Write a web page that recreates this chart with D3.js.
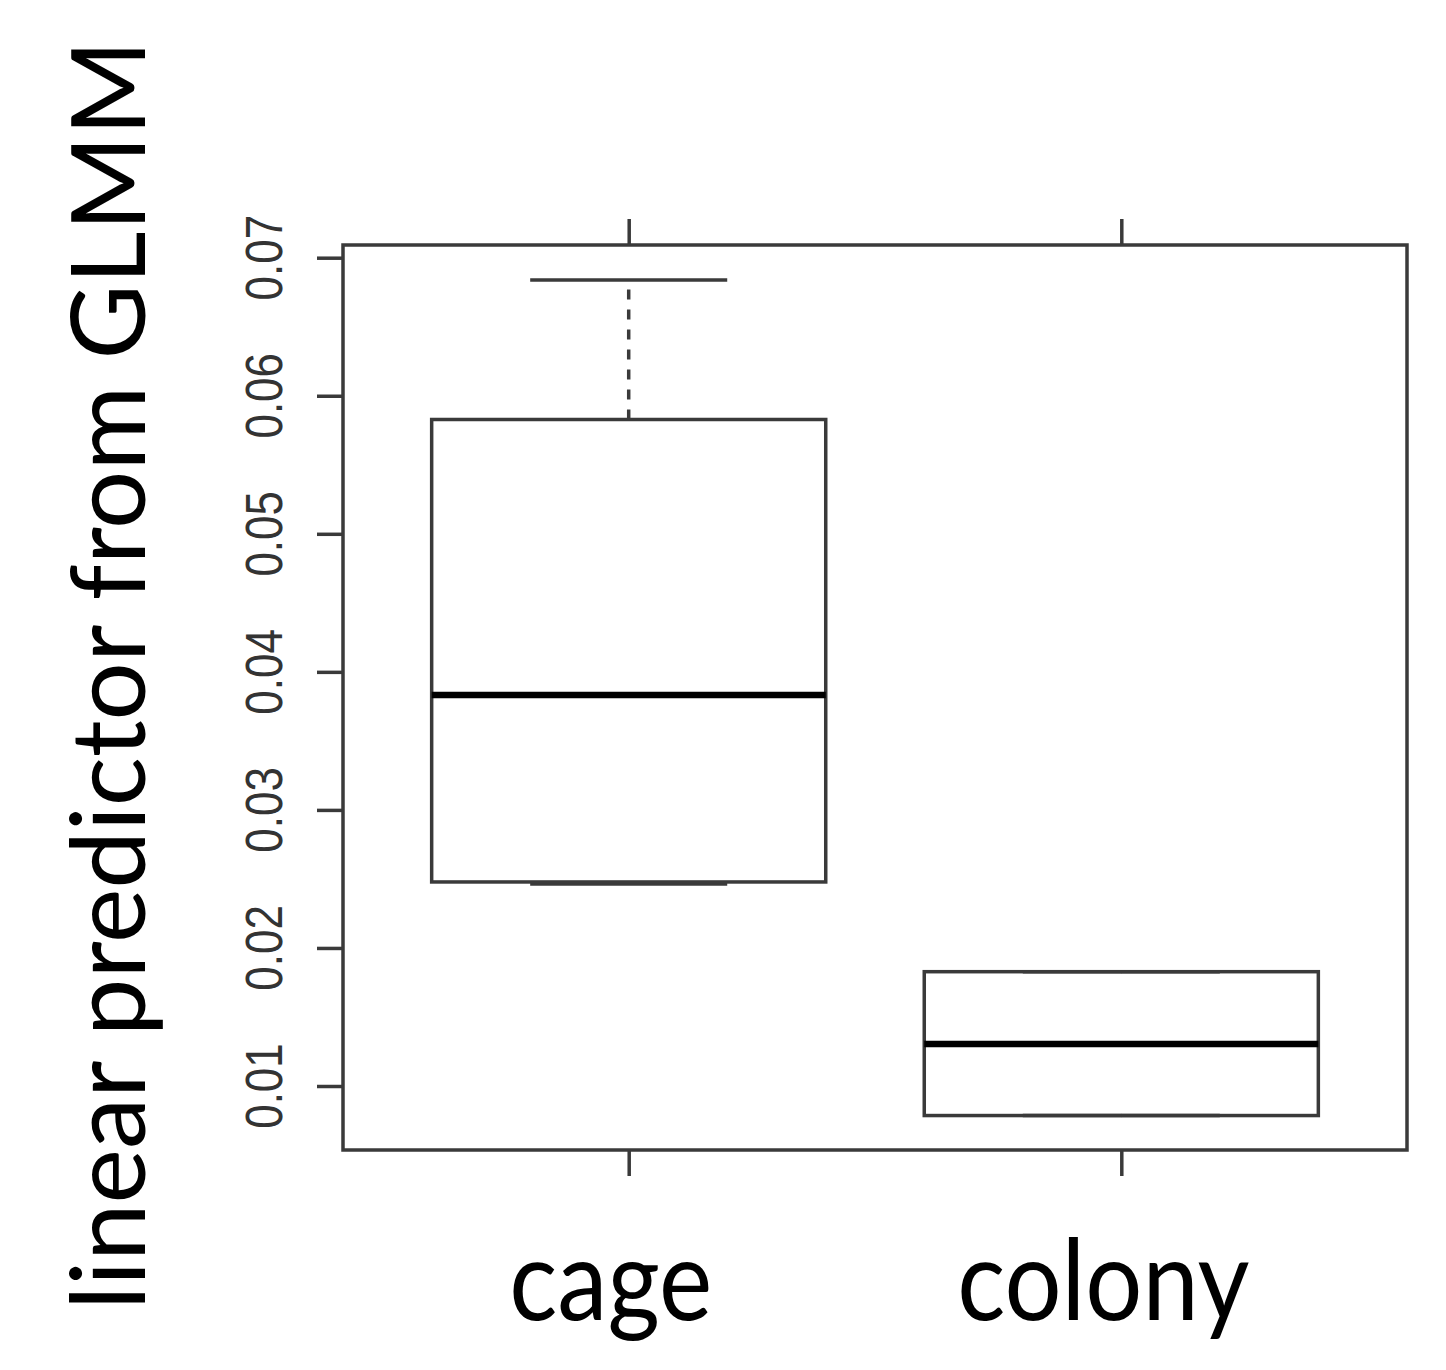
<!DOCTYPE html>
<html>
<head>
<meta charset="utf-8">
<script src="https://cdn.jsdelivr.net/npm/d3@7"></script>
<style>
  body { margin: 0; background: #fff; }
  svg { display: block; }
</style>
</head>
<body>
<script>
(function() {
  'use strict';

  // box statistics
  const categories = ['cage', 'colony'];
  const whiskerLow = [0.02463, 0.00786];
  const q1 = [0.02478, 0.00786];
  const medians = [0.03832, 0.01304];
  const q3 = [0.05828, 0.01828];
  const whiskerHigh = [0.06838, 0.01828];

  const yTicks = [0.01, 0.02, 0.03, 0.04, 0.05, 0.06, 0.07];
  const yTickLabels = ['0.01', '0.02', '0.03', '0.04', '0.05', '0.06', '0.07'];
  const yLabel = 'linear predictor from GLMM';

  const w = 1446;
  const h = 1370;
  const frame = { left: 343, right: 1407, top: 245, bottom: 1150 };
  const lineColor = '#3a3a3a';
  const lw = 3.5;

  const boxes = categories.map((c, i) => ({
    name: c, pos: i + 1,
    lo: whiskerLow[i], q1: q1[i], med: medians[i], q3: q3[i], hi: whiskerHigh[i]
  }));

  // R style: x from 0.5 to n+0.5, extended by 4%
  const xScale = d3.scaleLinear()
    .domain([0.42, categories.length + 0.58])
    .range([frame.left, frame.right]);
  const yScale = d3.scaleLinear()
    .domain([0.01, 0.07])
    .range([1086, 257.7]);

  const boxW = xScale(0.8) - xScale(0);
  const capW = boxW / 2;

  const svg = d3.select('body')
    .append('svg')
    .attr('width', w)
    .attr('height', h);

  const g = svg.selectAll('g.box')
    .data(boxes)
    .enter()
    .append('g')
    .attr('class', 'box');

  // whiskers (dashed)
  g.append('line')
    .attr('x1', (d) => xScale(d.pos)).attr('x2', (d) => xScale(d.pos))
    .attr('y1', (d) => yScale(d.q3)).attr('y2', (d) => yScale(d.hi))
    .attr('stroke', lineColor).attr('stroke-width', lw)
    .attr('stroke-dasharray', '10,10');
  g.append('line')
    .attr('x1', (d) => xScale(d.pos)).attr('x2', (d) => xScale(d.pos))
    .attr('y1', (d) => yScale(d.q1)).attr('y2', (d) => yScale(d.lo))
    .attr('stroke', lineColor).attr('stroke-width', lw)
    .attr('stroke-dasharray', '10,10');

  // staples
  ['hi', 'lo'].forEach((k) => {
    g.append('line')
      .attr('x1', (d) => xScale(d.pos) - capW / 2)
      .attr('x2', (d) => xScale(d.pos) + capW / 2)
      .attr('y1', (d) => yScale(d[k])).attr('y2', (d) => yScale(d[k]))
      .attr('stroke', lineColor).attr('stroke-width', lw);
  });

  // boxes
  g.append('rect')
    .attr('x', (d) => xScale(d.pos) - boxW / 2)
    .attr('y', (d) => yScale(d.q3))
    .attr('width', boxW)
    .attr('height', (d) => yScale(d.q1) - yScale(d.q3))
    .attr('fill', 'none')
    .attr('stroke', lineColor)
    .attr('stroke-width', lw);

  // medians
  g.append('line')
    .attr('x1', (d) => xScale(d.pos) - boxW / 2)
    .attr('x2', (d) => xScale(d.pos) + boxW / 2)
    .attr('y1', (d) => yScale(d.med)).attr('y2', (d) => yScale(d.med))
    .attr('stroke', '#000').attr('stroke-width', 6.5);

  // y axis ticks
  const yAxis = d3.axisLeft(yScale)
    .tickValues(yTicks)
    .tickSize(26)
    .tickFormat('');
  svg.append('g')
    .attr('id', 'y-axis')
    .attr('transform', 'translate(' + frame.left + ',0)')
    .call(yAxis)
    .call((s) => s.select('.domain').remove())
    .call((s) => s.selectAll('line').attr('stroke', lineColor).attr('stroke-width', lw));

  // rotated tick labels
  svg.append('g')
    .selectAll('text')
    .data(yTicks)
    .enter()
    .append('text')
    .attr('transform', (d) => 'translate(282,' + yScale(d) + ') scale(1.17,1) rotate(-90)')
    .attr('text-anchor', 'middle')
    .style('font-family', 'Liberation Sans, Arial, sans-serif')
    .style('font-size', '44px')
    .attr('fill', '#333')
    .text((d, i) => yTickLabels[i]);

  // x ticks top and bottom
  const xTicks = boxes.map((d) => d.pos);
  svg.append('g')
    .attr('transform', 'translate(0,' + frame.bottom + ')')
    .call(d3.axisBottom(xScale).tickValues(xTicks).tickSize(26).tickFormat(''))
    .call((s) => s.select('.domain').remove())
    .call((s) => s.selectAll('line').attr('stroke', lineColor).attr('stroke-width', lw));
  svg.append('g')
    .attr('transform', 'translate(0,' + frame.top + ')')
    .call(d3.axisTop(xScale).tickValues(xTicks).tickSize(26).tickFormat(''))
    .call((s) => s.select('.domain').remove())
    .call((s) => s.selectAll('line').attr('stroke', lineColor).attr('stroke-width', lw));

  // plot frame
  svg.append('rect')
    .attr('x', frame.left)
    .attr('y', frame.top)
    .attr('width', frame.right - frame.left)
    .attr('height', frame.bottom - frame.top)
    .attr('fill', 'none')
    .attr('stroke', lineColor)
    .attr('stroke-width', lw);

  // category labels
  svg.append('g')
    .selectAll('text')
    .data(boxes)
    .enter()
    .append('text')
    .attr('transform', (d) => 'translate(' + (xScale(d.pos) - 18) + ',1320) scale(0.9,1)')
    .attr('text-anchor', 'middle')
    .style('font-family', 'Lato, "Open Sans", sans-serif')
    .style('font-size', '112px')
    .attr('fill', '#000')
    .text((d) => d.name);

  // y axis title
  svg.append('text')
    .attr('transform', 'translate(145,675) rotate(-90)')
    .attr('text-anchor', 'middle')
    .style('font-family', 'Lato, "Open Sans", sans-serif')
    .style('font-size', '103px')
    .attr('fill', '#000')
    .text(yLabel);
}());
</script>
</body>
</html>
